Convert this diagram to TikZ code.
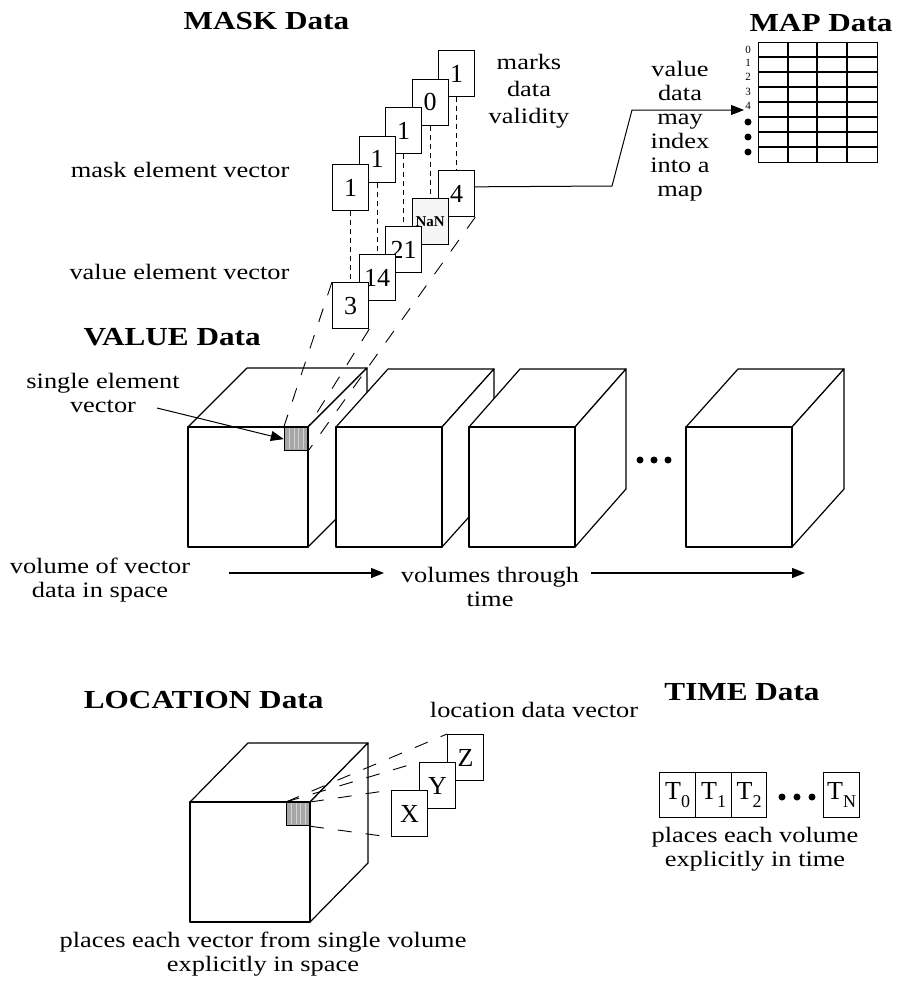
\documentclass[tikz,border=0pt]{standalone}
\usepackage{fontspec}
\setmainfont{Liberation Serif}
\usepackage{graphicx}
\usetikzlibrary{arrows.meta}
\newcommand{\sx}[1]{\scalebox{1.2}[1]{#1}}
\newcommand{\cuboid}[6]{%
  \filldraw[cubeface] (#1,#2) -- (#1+#5,#2-#6) -- (#1+#3+#5,#2-#6) -- (#1+#3,#2) -- cycle;
  \filldraw[cubeface] (#1+#3,#2) -- (#1+#3+#5,#2-#6) -- (#1+#3+#5,#2+#4-#6) -- (#1+#3,#2+#4) -- cycle;
  \filldraw[cubeface] (#1,#2) rectangle (#1+#3,#2+#4);
}
\begin{document}
\begin{tikzpicture}[x=1pt,y=-1pt,line width=1.2pt,
  txt/.style={font=\fontsize{22}{24}\selectfont, inner sep=0pt, align=center},
  ttl/.style={font=\fontsize{26}{28}\selectfont\bfseries, inner sep=0pt},
  cell/.style={draw, fill=white, minimum width=36pt, minimum height=46pt, inner sep=0pt, anchor=north west, font=\fontsize{26}{26}\selectfont},
  vdash/.style={line width=0.9pt, dash pattern=on 5pt off 4pt},
  ldash/.style={line width=0.9pt, dash pattern=on 14pt off 14pt},
  cubeface/.style={draw, fill=white, line join=round},
  shade/.style={draw, fill=gray!70, minimum size=23pt, inner sep=0pt, anchor=north east},
  stripe/.style={gray!35, line width=1.3pt},
  arr/.style={-{Triangle[length=13pt,width=10pt]}},
  rowlbl/.style={font=\fontsize{11}{11}\selectfont, inner sep=1pt},
  dot/.style={circle, fill=black, inner sep=0pt, minimum size=7pt},
]
\useasboundingbox (0,0) rectangle (913,982);

% ---------------- titles
\node[ttl, anchor=base west] (tmask) at (183,30) {\sx{MASK Data}};
\node[ttl, anchor=base] (tmap) at (821,32) {\sx{MAP Data}};
\node[ttl, anchor=base west] (tvalue) at (83,345) {\sx{VALUE Data}};
\node[ttl, anchor=base east] (tloc) at (324,708) {\sx{LOCATION Data}};
\node[ttl, anchor=base] (ttime) at (742,700) {\sx{TIME Data}};

% ---------------- labels
\node[txt, anchor=north, font=\fontsize{22}{27}\selectfont] (lmarks) at (529,54) {\sx{marks}\\\sx{data}\\\sx{validity}};
\node[txt, anchor=base east] (lmask) at (290,177) {\sx{mask element vector}};
\node[txt, anchor=base east] (lvalue) at (290,279) {\sx{value element vector}};
\node[txt, anchor=north] (lindex) at (680,61) {\sx{value}\\\sx{data}\\\sx{may}\\\sx{index}\\\sx{into a}\\\sx{map}};

% ---------------- value cubes
\cuboid{188}{427}{120}{120}{59}{59}
\node[shade] (sq) at (308,427) {};
\foreach \i in {1,...,4} \draw[stripe] (285+\i*4.6,428) -- (285+\i*4.6,449);
\cuboid{336}{427}{106}{120}{52}{58}
\cuboid{469}{427}{106}{120}{51}{58}
\cuboid{686}{427}{106}{120}{52}{58}
\node[dot] (d1) at (640,460) {};
\node[dot] (d2) at (654,460) {};
\node[dot] (d3) at (668,460) {};

% ---------------- mask / value vectors
\node[cell] (m5) at (438,50) {1};
\node[cell] (m4) at (411.5,78.5) {0};
\node[cell] (m3) at (385,107) {1};
\node[cell] (m2) at (358.5,135.5) {1};
\node[cell] (m1) at (332,164) {1};
\draw[vdash] (m5.south) -- ++(0,74);
\draw[vdash] (m4.south) -- ++(0,72);
\draw[vdash] (m3.south) -- ++(0,72);
\draw[vdash] (m2.south) -- ++(0,72);
\draw[vdash] (m1.south) -- ++(0,72);
\node[cell] (v5) at (438,170) {4};
\node[cell, fill=gray!8] (v4) at (411.5,198) {\fontsize{15}{15}\selectfont\bfseries NaN};
\node[cell] (v3) at (385,226) {21};
\node[cell] (v2) at (358.5,254) {14};
\node[cell] (v1) at (332,282) {3};

% long dashed projection lines
\draw[ldash] (v1.north west) -- (sq.north west);
\draw[ldash] (v1.south east) -- (sq.north east);
\draw[ldash] (v5.south east) -- (sq.south east);

% index arrow to map
\draw[arr, line width=1pt] (v5.20) -- (612,186) -- (632,110) -- (744,110);

% ---------------- map grid
\node[draw, minimum width=119pt, minimum height=120pt, inner sep=0pt, anchor=north west] (grid) at (758,42) {};
\foreach \xx in {788,817,847} \draw (\xx,42) -- (\xx,162);
\foreach \yy in {57,72,...,147} \draw (758,\yy) -- (877,\yy);
\node[rowlbl] (r0) at (748,49.5) {0};
\node[rowlbl] (r1) at (748,63) {1};
\node[rowlbl] (r2) at (748,77) {2};
\node[rowlbl] (r3) at (748,91.5) {3};
\node[rowlbl] (r4) at (748,106) {4};
\node[dot] (md1) at (748,122) {};
\node[dot] (md2) at (748,137) {};
\node[dot] (md3) at (748,152) {};

% ---------------- single element label
\node[txt, anchor=north] (lsingle) at (103,373) {\sx{single element}\\\sx{vector}};
\draw[arr, line width=1pt] (157,408) -- (sq.west);

% ---------------- time arrows
\node[txt, anchor=north] (lvol) at (100,557) {\sx{volume of vector}\\\sx{data in space}};
\node[txt, anchor=north] (lthrough) at (490,567) {\sx{volumes through}\\\sx{time}};
\draw[arr, line width=1.3pt] (229,573) -- (384,573);
\draw[arr, line width=1.3pt] (591,573) -- (805,573);

% ---------------- location
\cuboid{190}{802}{120}{120}{58}{59}
\node[shade] (lsq) at (310,802) {};
\foreach \i in {1,...,4} \draw[stripe] (287+\i*4.6,803) -- (287+\i*4.6,824);
\node[txt, anchor=base] (lvec) at (534,717) {\sx{location data vector}};
\node[cell] (cz) at (447,734) {Z};
\node[cell] (cy) at (419,762) {Y};
\node[cell] (cx) at (391,790) {X};
\draw[ldash] (lsq.north west) -- (cz.north west);
\draw[ldash] (lsq.north west) -- (cy.north west);
\draw[ldash] (lsq.north east) -- (cx.north west);
\draw[ldash] (lsq.south east) -- (cx.south west);
\node[txt, anchor=north] (lplaces) at (263,931) {\sx{places each vector from single volume}\\\sx{explicitly in space}};

% ---------------- time
\node[cell, minimum width=36pt, minimum height=45pt] (t0) at (659,772) {T\raisebox{-0.3em}{\fontsize{18}{18}\selectfont 0}};
\node[cell, minimum width=36pt, minimum height=45pt] (t1) at (695,772) {T\raisebox{-0.3em}{\fontsize{18}{18}\selectfont 1}};
\node[cell, minimum width=35pt, minimum height=45pt] (t2) at (731,772) {T\raisebox{-0.3em}{\fontsize{18}{18}\selectfont 2}};
\node[dot] (td1) at (782,797) {};
\node[dot] (td2) at (797,797) {};
\node[dot] (td3) at (812,797) {};
\node[cell, minimum width=36pt, minimum height=45pt] (tn) at (823,772) {T\raisebox{-0.3em}{\fontsize{18}{18}\selectfont N}};
\node[txt, anchor=north] (ltime) at (755,827) {\sx{places each volume}\\\sx{explicitly in time}};
\end{tikzpicture}
\end{document}
